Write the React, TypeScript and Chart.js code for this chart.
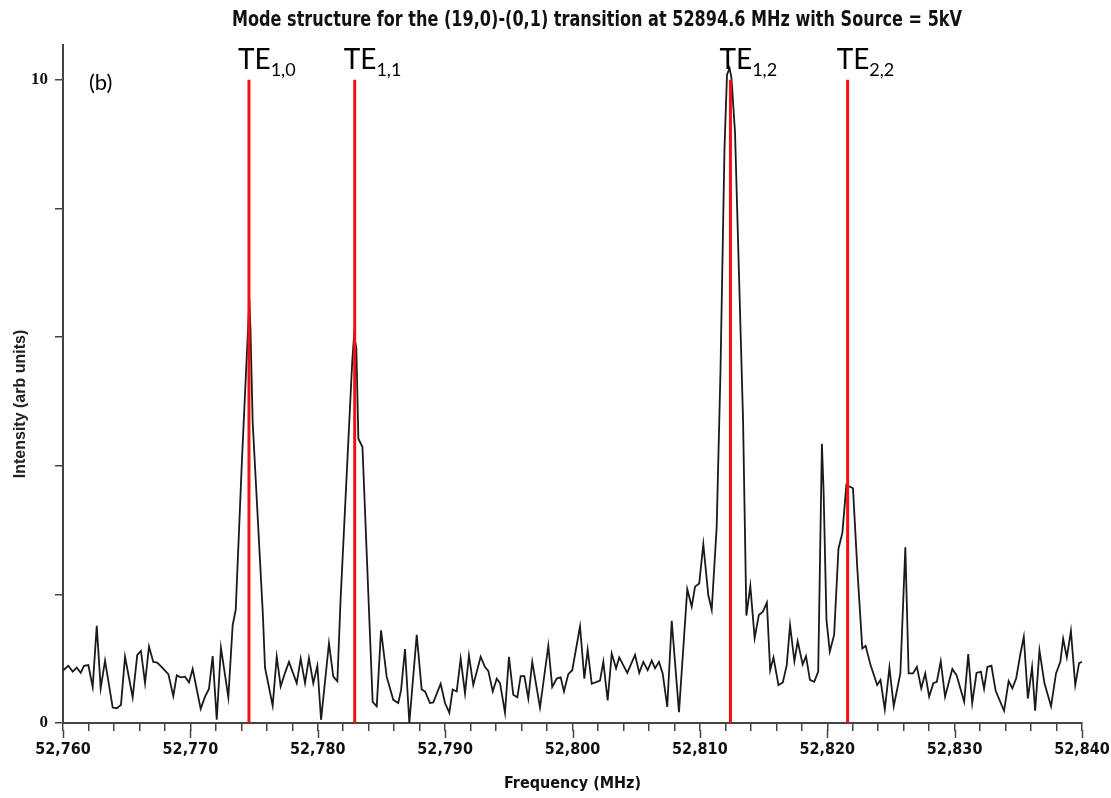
import React, { useEffect, useRef } from "react";
import { Chart, registerables } from "chart.js";

Chart.register(...registerables);

const titleText =
  "Mode structure for the (19,0)-(0,1) transition at 52894.6 MHz with Source = 5kV";
const xAxisTitle = "Frequency (MHz)";
const yAxisTitle = "Intensity (arb units)";
const panelLabel = "(b)";

const freqMHz = [
  52760.02, 52760.42, 52760.76, 52761.08, 52761.39, 52761.65, 52761.99, 52762.33, 52762.65, 52762.96,
  52763.3, 52763.9, 52764.22, 52764.55, 52764.87, 52765.47, 52765.83, 52766.12, 52766.44, 52766.75,
  52767.09, 52767.4, 52767.75, 52768.27, 52768.66, 52768.93, 52769.24, 52769.58, 52769.89, 52770.18,
  52770.81, 52771.15, 52771.46, 52771.75, 52772.07, 52772.4, 52772.98, 52773.32, 52773.56, 52774.05,
  52774.63, 52774.72, 52774.89, 52775.69, 52775.86, 52776.46, 52776.78, 52777.09, 52777.43, 52777.74,
  52778.35, 52778.66, 52779.0, 52779.31, 52779.65, 52779.97, 52780.26, 52780.88, 52781.22, 52781.54,
  52781.79, 52782.71, 52782.85, 52783.03, 52783.19, 52783.51, 52784.31, 52784.63, 52784.97, 52785.41,
  52785.93, 52786.32, 52786.54, 52786.85, 52787.19, 52787.77, 52788.16, 52788.42, 52788.81, 52789.07,
  52789.65, 52789.99, 52790.33, 52790.59, 52790.91, 52791.22, 52791.56, 52791.87, 52792.21, 52792.79,
  52793.13, 52793.39, 52793.74, 52794.05, 52794.31, 52794.7, 52795.01, 52795.35, 52795.67, 52795.93,
  52796.22, 52796.53, 52796.84, 52797.45, 52798.1, 52798.41, 52798.76, 52799.07, 52799.33, 52799.67,
  52799.98, 52800.59, 52800.93, 52801.19, 52801.51, 52802.16, 52802.42, 52802.76, 52803.08, 52803.42,
  52803.67, 52804.3, 52804.91, 52805.24, 52805.56, 52805.9, 52806.22, 52806.48, 52806.79, 52807.08,
  52807.44, 52807.79, 52808.36, 52809.01, 52809.36, 52809.62, 52809.95, 52810.27, 52810.66, 52810.93,
  52811.32, 52811.62, 52811.93, 52812.13, 52812.33, 52812.48, 52812.76, 52813.39, 52813.65, 52813.96,
  52814.3, 52814.63, 52814.95, 52815.26, 52815.52, 52815.78, 52816.17, 52816.51, 52816.82, 52817.08,
  52817.42, 52817.68, 52818.07, 52818.33, 52818.64, 52818.98, 52819.29, 52819.58, 52819.71, 52819.94,
  52820.2, 52820.54, 52820.88, 52821.19, 52821.5, 52822.02, 52822.36, 52822.75, 52823.01, 52823.4,
  52823.92, 52824.18, 52824.52, 52824.88, 52825.22, 52825.74, 52826.13, 52826.39, 52826.73, 52827.04,
  52827.38, 52827.69, 52828.0, 52828.33, 52828.6, 52828.91, 52829.25, 52829.82, 52830.16, 52830.75,
  52831.07, 52831.38, 52831.72, 52832.06, 52832.31, 52832.57, 52832.89, 52833.22, 52833.88, 52834.24,
  52834.53, 52834.83, 52835.17, 52835.43, 52835.75, 52836.08, 52836.32, 52836.66, 52837.05, 52837.57,
  52837.96, 52838.3, 52838.52, 52838.81, 52839.13, 52839.47, 52839.77, 52840.0,
];

const intensity = [
  0.82, 0.89, 0.8, 0.86, 0.78, 0.89, 0.9, 0.56, 1.51, 0.54,
  0.97, 0.24, 0.23, 0.28, 1.03, 0.4, 1.06, 1.12, 0.62, 1.19,
  0.95, 0.94, 0.87, 0.76, 0.42, 0.74, 0.71, 0.72, 0.63, 0.84,
  0.22, 0.41, 0.53, 1.04, 0.05, 1.17, 0.4, 1.52, 1.76, 4.09,
  6.57, 6.11, 4.68, 1.69, 0.86, 0.27, 1.03, 0.57, 0.78, 0.95,
  0.62, 1.0, 0.62, 1.01, 0.62, 0.89, 0.05, 1.24, 0.72, 0.65,
  1.91, 5.63, 6.02, 5.83, 4.42, 4.29, 0.33, 0.26, 1.44, 0.72,
  0.36, 0.31, 0.51, 1.15, 0.0, 1.37, 0.52, 0.49, 0.31, 0.32,
  0.61, 0.31, 0.16, 0.52, 0.49, 1.0, 0.46, 1.05, 0.59, 1.03,
  0.87, 0.81, 0.49, 0.69, 0.62, 0.16, 1.03, 0.44, 0.4, 0.73,
  0.73, 0.38, 0.95, 0.24, 1.2, 0.56, 0.69, 0.71, 0.49, 0.76,
  0.82, 1.5, 0.69, 1.14, 0.61, 0.66, 0.95, 0.35, 1.08, 0.85,
  1.02, 0.78, 1.06, 0.78, 0.95, 0.82, 0.97, 0.85, 0.95, 0.77,
  0.25, 1.59, 0.17, 2.08, 1.81, 2.12, 2.17, 2.78, 1.99, 1.76,
  3.05, 5.49, 8.91, 10.08, 10.18, 10.03, 9.18, 4.71, 1.67, 2.13,
  1.32, 1.68, 1.73, 1.87, 0.82, 1.02, 0.59, 0.63, 0.9, 1.52,
  0.96, 1.27, 0.91, 1.04, 0.67, 0.64, 0.8, 4.34, 3.62, 1.6,
  1.11, 1.37, 2.71, 2.96, 3.7, 3.65, 2.4, 1.16, 1.2, 0.9,
  0.59, 0.67, 0.21, 0.86, 0.26, 0.77, 2.73, 0.77, 0.77, 0.87,
  0.54, 0.77, 0.41, 0.62, 0.64, 0.96, 0.41, 0.84, 0.74, 0.33,
  1.07, 0.31, 0.78, 0.8, 0.53, 0.87, 0.89, 0.5, 0.19, 0.65,
  0.54, 0.69, 1.08, 1.34, 0.38, 0.87, 0.19, 1.13, 0.62, 0.26,
  0.77, 0.95, 1.31, 1.02, 1.43, 0.59, 0.93, 0.95,
];

const modeFreqs = [52774.6, 52782.9, 52812.4, 52821.6];
const modeSubs = ["1,0", "1,1", "1,2", "2,2"];
const modeTop = 10;

const xTickLabels = [52760, 52770, 52780, 52790, 52800, 52810, 52820, 52830, 52840];
const yTickLabels = [0, 10];

const narrowFont =
  '"Liberation Sans Narrow", "DejaVu Sans Condensed", "Liberation Sans", sans-serif';

const annotPlugin = {
  id: "annotPlugin",
  afterDraw(chart: any) {
    const { ctx } = chart;
    const x = chart.scales.x;
    const y = chart.scales.y;
    ctx.save();

    // Title (condensed, stretched to reference width)
    ctx.fillStyle = "#111";
    ctx.font = "bold 22px " + narrowFont;
    const tw = ctx.measureText(titleText).width;
    ctx.save();
    ctx.translate(597, 26);
    ctx.scale(730 / tw, 1);
    ctx.textAlign = "center";
    ctx.textBaseline = "alphabetic";
    ctx.fillText(titleText, 0, 0);
    ctx.restore();

    // Y axis title
    ctx.save();
    ctx.translate(21, 404);
    ctx.rotate(-Math.PI / 2);
    ctx.fillStyle = "#222";
    ctx.font = 'bold 16px "Liberation Sans", sans-serif';
    ctx.textAlign = "center";
    ctx.textBaseline = "middle";
    ctx.fillText(yAxisTitle, 0, 0);
    ctx.restore();

    // Longer major ticks on x
    ctx.strokeStyle = "#444";
    ctx.lineWidth = 1.5;
    xTickLabels.forEach((v) => {
      const px = Math.round(x.getPixelForValue(v)) + 0.5;
      ctx.beginPath();
      ctx.moveTo(px, y.bottom + 7);
      ctx.lineTo(px, y.bottom + 15);
      ctx.stroke();
    });

    // Mode labels
    ctx.fillStyle = "#000";
    ctx.textAlign = "left";
    ctx.textBaseline = "alphabetic";
    modeFreqs.forEach((f, i) => {
      const px = x.getPixelForValue(f);
      const top = y.getPixelForValue(modeTop);
      ctx.font = '28px Lato, "Open Sans", sans-serif';
      ctx.fillText("TE", px - 11, top - 11);
      const w = ctx.measureText("TE").width;
      ctx.font = '18px Lato, "Open Sans", sans-serif';
      ctx.fillText(modeSubs[i], px - 11 + w, top - 4);
    });

    // Panel label
    ctx.font = '22px Lato, "Open Sans", sans-serif';
    ctx.fillText(panelLabel, 89, 90);

    ctx.restore();
  },
};

export default function App() {
  const canvasRef = useRef<HTMLCanvasElement | null>(null);

  useEffect(() => {
    const canvas = canvasRef.current;
    if (!canvas) return;

    const tracePoints = freqMHz.map((f, i) => ({ x: f, y: intensity[i] }));
    const modeDatasets = modeFreqs.map((f) => ({
      type: "line" as const,
      data: [
        { x: f, y: 0 },
        { x: f, y: modeTop },
      ],
      borderColor: "#f01010",
      borderWidth: 3,
      pointRadius: 0,
      tension: 0,
    }));

    const chart = new Chart(canvas, {
      type: "line",
      data: {
        datasets: [
          ...modeDatasets,
          {
            data: tracePoints,
            borderColor: "#1a1a1a",
            borderWidth: 1.8,
            pointRadius: 0,
            tension: 0,
          },
        ],
      },
      options: {
        responsive: false,
        animation: false,
        events: [],
        layout: { padding: { top: 45, right: 29, left: 0, bottom: 0 } },
        plugins: {
          legend: { display: false },
          tooltip: { enabled: false },
          title: { display: false },
        },
        scales: {
          x: {
            type: "linear",
            min: 52760,
            max: 52840,
            afterFit: (s: any) => {
              s.height = 75;
              s.paddingLeft = 0;
              s.paddingRight = 0;
            },
            border: { display: true, color: "#444", width: 2 },
            grid: {
              display: true,
              drawOnChartArea: false,
              drawTicks: true,
              tickLength: 8,
              color: "#444",
              lineWidth: 1.5,
            },
            ticks: {
              stepSize: 2,
              autoSkip: false,
              maxRotation: 0,
              minRotation: 0,
              padding: 9,
              color: "#111",
              font: { family: narrowFont, size: 16, weight: "bold" },
              callback: (v: any) =>
                xTickLabels.includes(Math.round(Number(v)))
                  ? Math.round(Number(v)).toLocaleString("en-US")
                  : "",
            },
            title: {
              display: true,
              text: xAxisTitle,
              color: "#111",
              font: { family: narrowFont, size: 16, weight: "bold" },
              padding: { top: 0, bottom: 5 },
            },
          },
          y: {
            type: "linear",
            min: 0,
            max: 10.54,
            afterFit: (s: any) => {
              s.width = 63;
            },
            border: { display: true, color: "#444", width: 2 },
            grid: {
              display: true,
              drawOnChartArea: false,
              drawTicks: true,
              tickLength: 8,
              color: "#444",
              lineWidth: 1.5,
            },
            ticks: {
              stepSize: 2,
              includeBounds: false,
              autoSkip: false,
              padding: 7,
              color: "#111",
              font: { family: '"Liberation Serif", serif', size: 17, weight: "bold" },
              callback: (v: any) =>
                yTickLabels.includes(Math.round(Number(v))) && Number.isInteger(Number(v))
                  ? String(v)
                  : "",
            },
            title: { display: false },
          },
        },
      },
      plugins: [annotPlugin],
    });

    return () => {
      chart.destroy();
    };
  }, []);

  return (
    <div style={{ position: "absolute", left: 0, top: 0, width: 1111, height: 798, background: "#fff" }}>
      <canvas ref={canvasRef} width={1111} height={798} />
    </div>
  );
}
